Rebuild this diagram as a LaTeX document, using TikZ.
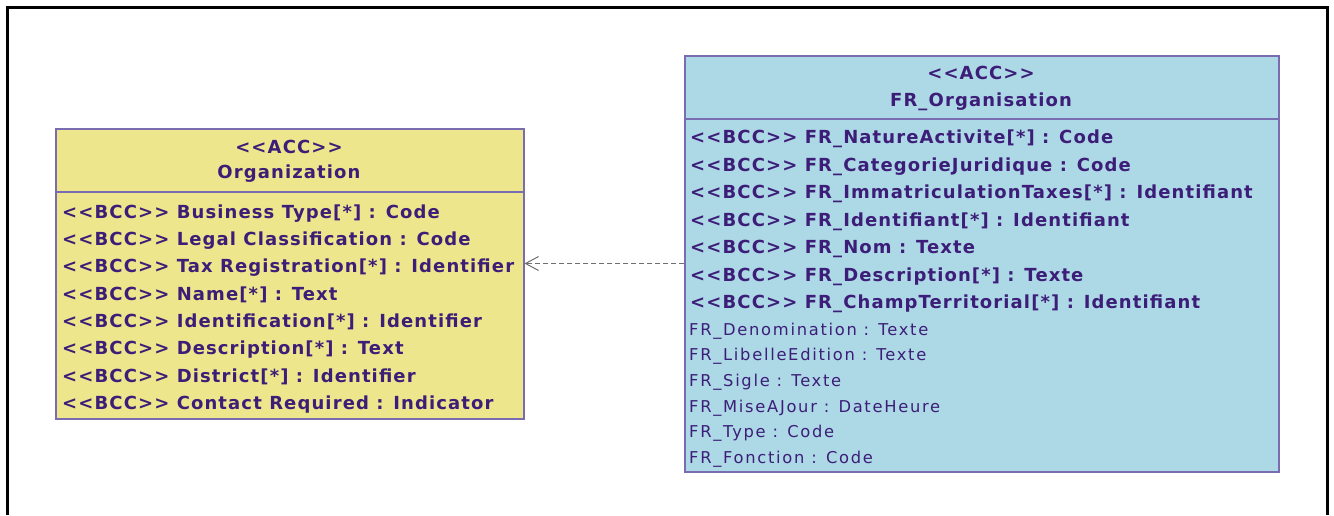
\documentclass[tikz,border=0pt]{standalone}
\usepackage{fontspec}
\setmainfont{DejaVu Sans}
\newfontfamily\umlbold[Ligatures=TeXOff, LetterSpace=6.2]{DejaVu Sans Bold}
\newfontfamily\umlplain[Ligatures=TeXOff, LetterSpace=10.5]{DejaVu Sans}
\usetikzlibrary{arrows.meta}
\definecolor{ink}{HTML}{3C1E78}
\definecolor{edge}{HTML}{7A6CB0}
\definecolor{accyellow}{HTML}{EEE68C}
\definecolor{accblue}{HTML}{ADD8E6}
\definecolor{dep}{HTML}{6E6E6E}
\tikzset{
  classbox/.style={draw=edge, line width=1.5pt, inner sep=0pt, anchor=north west},
  headtext/.style={text=ink, font=\umlbold\fontsize{18}{20}\selectfont, inner sep=0pt, anchor=base},
  bcctext/.style={text=ink, font=\umlbold\fontsize{18}{20}\selectfont, inner sep=0pt, anchor=base west},
  attrtext/.style={text=ink, font=\umlplain\fontsize{16.3}{18}\selectfont, inner sep=0pt, anchor=base west},
  divider/.style={draw=edge, line width=1.5pt},
  depends/.style={draw=dep, line width=1pt, dash pattern=on 5pt off 3pt,
    -{Straight Barb[length=13pt,width=14pt,line width=1pt]}},
}
\begin{document}
\begin{tikzpicture}[x=1pt,y=-1pt]
\useasboundingbox (0,0) rectangle (1334,515);
% outer frame, open at the bottom
\draw[line width=3pt] (7,515) -- (7,7) -- (1327,7) -- (1327,515);

% ---- Organization ----
\node[classbox, fill=accyellow, minimum width=468pt, minimum height=290pt] (org) at (55,128) {};
\draw[divider] (55,192) -- (523,192);
\node[headtext] (orgst) at (289,153) {<<ACC>>};
\node[headtext] (orgnm) at (289,178.5) {Organization};
\foreach \t [count=\i] in {
  {<<BCC>> Business Type[*] : Code},
  {<<BCC>> Legal Classification : Code},
  {<<BCC>> Tax Registration[*] : Identifier},
  {<<BCC>> Name[*] : Text},
  {<<BCC>> Identification[*] : Identifier},
  {<<BCC>> Description[*] : Text},
  {<<BCC>> District[*] : Identifier},
  {<<BCC>> Contact Required : Indicator}}
  \node[bcctext] (oa\i) at (62,{218.3+27.3*(\i-1)}) {\t};

% ---- FR_Organisation ----
\node[classbox, fill=accblue, minimum width=594pt, minimum height=416pt] (fro) at (684,55) {};
\draw[divider] (684,119) -- (1278,119);
\node[headtext] (frost) at (981,79.5) {<<ACC>>};
\node[headtext] (fronm) at (981,106) {FR\_Organisation};
\foreach \t [count=\i] in {
  {<<BCC>> FR\_NatureActivite[*] : Code},
  {<<BCC>> FR\_CategorieJuridique : Code},
  {<<BCC>> FR\_ImmatriculationTaxes[*] : Identifiant},
  {<<BCC>> FR\_Identifiant[*] : Identifiant},
  {<<BCC>> FR\_Nom : Texte},
  {<<BCC>> FR\_Description[*] : Texte},
  {<<BCC>> FR\_ChampTerritorial[*] : Identifiant}}
  \node[bcctext] (fa\i) at (690,{143.5+27.5*(\i-1)}) {\t};
\foreach \t [count=\i] in {
  {FR\_Denomination : Texte},
  {FR\_LibelleEdition : Texte},
  {FR\_Sigle : Texte},
  {FR\_MiseAJour : DateHeure},
  {FR\_Type : Code},
  {FR\_Fonction : Code}}
  \node[attrtext] (fb\i) at (689,{335+25.7*(\i-1)}) {\t};

% dependency
\draw[depends] (fro.west |- 0,263.5) -- (org.east |- 0,263.5);
\end{tikzpicture}
\end{document}
